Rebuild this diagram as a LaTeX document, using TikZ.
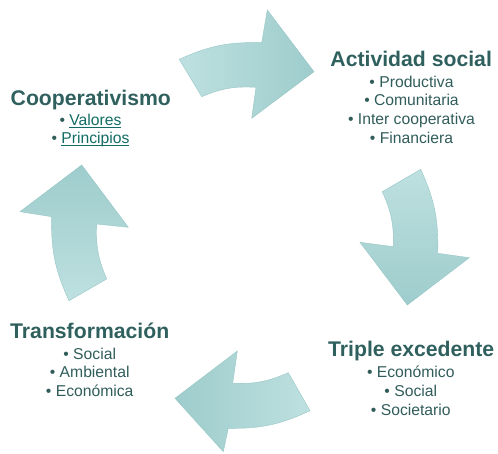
\documentclass[tikz,border=0pt]{standalone}
\usepackage{fontspec}
\setmainfont{Liberation Sans}
\usepackage{tikz}

\definecolor{titleTeal}{RGB}{47,96,94}
\definecolor{itemTeal}{RGB}{48,92,90}
\definecolor{linkTeal}{RGB}{18,108,100}
\definecolor{arrowLight}{RGB}{190,224,224}
\definecolor{arrowDark}{RGB}{158,204,204}
\definecolor{arrowEdge}{RGB}{150,198,198}

\newsavebox\linkbox
\newcommand{\linkword}[1]{\sbox\linkbox{\color{linkTeal}#1}%
	{\color{linkTeal}\rlap{\rule[-2pt]{\wd\linkbox}{0.9pt}}}\usebox\linkbox}

\begin{document}
\begin{tikzpicture}[x=1pt, y=1pt,
			cycleArrow/.style={draw=arrowEdge, line width=0.4pt, top color=arrowDark, bottom color=arrowLight},
			blockTitle/.style={anchor=base, inner sep=0pt, text=titleTeal, font=\fontsize{21.2}{25}\selectfont\bfseries},
			blockItem/.style={anchor=base, inner sep=0pt, text=itemTeal, font=\fontsize{15.7}{18.7}\selectfont}]
			\useasboundingbox (0,0) rectangle (498,454);
			% arrows, clockwise from the top
			\draw[cycleArrow, shading angle=-90] (179.3,394.7) to[bend left=13] (261.7,411.3)
				-- (267.3,444) -- (314,382.3) -- (251.7,335.7) -- (256,366.7)
				to[bend right=13] (201.7,357.3) -- cycle;
			\draw[cycleArrow, shading angle=180] (420.7,284.7) to[bend left=13] (437.7,200.7)
				-- (469.3,196.3) -- (407.3,149) -- (360,211.7) -- (393.3,207.3)
				to[bend right=13] (382.3,262.3) -- cycle;
			\draw[cycleArrow, shading angle=90] (310,43.3) to[bend left=13] (228.3,25.7)
				-- (223.3,2.3) -- (175,55.7) -- (237.3,103) -- (232.7,70.7)
				to[bend right=13] (288.3,81.3) -- cycle;
			\draw[cycleArrow, shading angle=0] (69,153.3) to[bend left=13] (51.7,237.3)
				-- (20,242.3) -- (81.7,289) -- (128.3,226.7) -- (96.7,230)
				to[bend right=13] (106.7,175) -- cycle;
			% Cooperativismo
			\node[blockTitle] (coop) at (90.8,348) {Cooperativismo};
			\node[blockItem] (coop1) at (90.5,328.3) {\textbullet{} \linkword{Valores}};
			\node[blockItem] (coop2) at (90.5,310) {\textbullet{} \linkword{Principios}};
			% Actividad social
			\node[blockTitle] (act) at (411.2,387.3) {Actividad social};
			\foreach \t [count=\i] in {Productiva, Comunitaria, Inter cooperativa, Financiera}
				\node[blockItem] (act\i) at (411.5,385.4-18.7*\i) {\textbullet{} \t};
			% Triple excedente
			\node[blockTitle] (triple) at (411.2,97.3) {Triple excedente};
			\foreach \t [count=\i] in {Económico, Social, Societario}
				\node[blockItem] (triple\i) at (410.8,95.3-19*\i) {\textbullet{} \t};
			% Transformacion
			\node[blockTitle] (trans) at (89.7,115.7) {Transformación};
			\foreach \t [count=\i] in {Social, Ambiental, Económica}
				\node[blockItem] (trans\i) at (89.7,113.7-18.8*\i) {\textbullet{} \t};
		\end{tikzpicture}
\end{document}
